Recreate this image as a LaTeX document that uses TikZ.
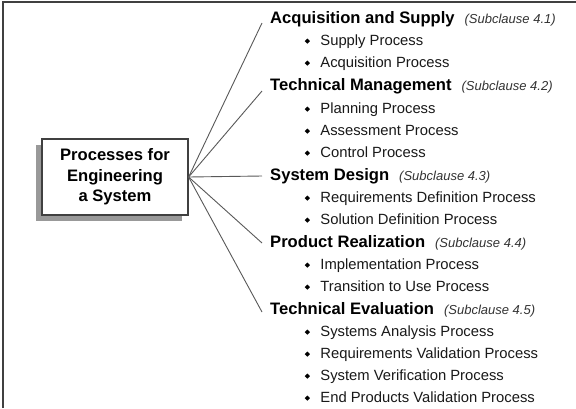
\documentclass[tikz,border=0pt]{standalone}
\usepackage{fontspec}
\setmainfont{Liberation Sans}
\begin{document}
\begin{tikzpicture}[x=1pt,y=-1pt,
  frameline/.style={draw=black!75,line width=1.5pt},
  conn/.style={draw=black!65,line width=0.9pt},
  mainbox/.style={draw=black!75,line width=1.2pt,fill=white,minimum width=146pt,minimum height=76pt,inner sep=0pt,align=center,font=\fontsize{16.6}{20.5}\selectfont\bfseries},
  shadowbox/.style={fill=black!40,minimum width=146pt,minimum height=76pt,inner sep=0pt},
  head/.style={anchor=base west,inner sep=0pt,font=\fontsize{16.6}{20}\selectfont\bfseries,text=black},
  item/.style={anchor=base west,inner sep=0pt,font=\fontsize{14.8}{18}\selectfont,text=black!90},
]
\newcommand\mybul{\tikz[baseline=-3.9pt]\fill[black] (0,0)--(2.6pt,2.6pt)--(5.2pt,0)--(2.6pt,-2.6pt)--cycle;}
\newcommand\subcl[1]{\hspace{10pt}{\fontsize{13}{16}\selectfont\mdseries\itshape\color{black!80}(Subclause #1)}}
\useasboundingbox (0,0) rectangle (576,408);
\fill[white] (0,0) rectangle (576,408);
\draw[frameline] (3,408) -- (3,2) -- (576,2);
% box with shadow
\node[shadowbox] (shadow) at (109,183) {};
\node[mainbox] (box) at (115,177) {Processes for\\Engineering\\a System};
% headings
\node[head] (h1) at (270,23) {Acquisition and Supply\subcl{4.1}};
\node[head] (h2) at (270,90) {Technical Management\subcl{4.2}};
\node[head] (h3) at (270,180) {System Design\subcl{4.3}};
\node[head] (h4) at (270,247) {Product Realization\subcl{4.4}};
\node[head] (h5) at (270,314) {Technical Evaluation\subcl{4.5}};
% items
\node[item] (i11) at (304.5,45) {\mybul\hspace{10.5pt}Supply Process};
\node[item] (i12) at (304.5,67) {\mybul\hspace{10.5pt}Acquisition Process};
\node[item] (i21) at (304.5,113) {\mybul\hspace{10.5pt}Planning Process};
\node[item] (i22) at (304.5,135) {\mybul\hspace{10.5pt}Assessment Process};
\node[item] (i23) at (304.5,157) {\mybul\hspace{10.5pt}Control Process};
\node[item] (i31) at (304.5,202) {\mybul\hspace{10.5pt}Requirements Definition Process};
\node[item] (i32) at (304.5,224) {\mybul\hspace{10.5pt}Solution Definition Process};
\node[item] (i41) at (304.5,269) {\mybul\hspace{10.5pt}Implementation Process};
\node[item] (i42) at (304.5,291) {\mybul\hspace{10.5pt}Transition to Use Process};
\node[item] (i51) at (304.5,336) {\mybul\hspace{10.5pt}Systems Analysis Process};
\node[item] (i52) at (304.5,358) {\mybul\hspace{10.5pt}Requirements Validation Process};
\node[item] (i53) at (304.5,380) {\mybul\hspace{10.5pt}System Verification Process};
\node[item] (i54) at (304.5,402) {\mybul\hspace{10.5pt}End Products Validation Process};
% connector ends
\coordinate (e1) at (262,23);
\coordinate (e2) at (262,91);
\coordinate (e3) at (262,176);
\coordinate (e4) at (262,243);
\coordinate (e5) at (262,312);
\foreach \e in {e1,e2,e3,e4,e5} \draw[conn] (box.east) -- (\e);
\end{tikzpicture}
\end{document}
